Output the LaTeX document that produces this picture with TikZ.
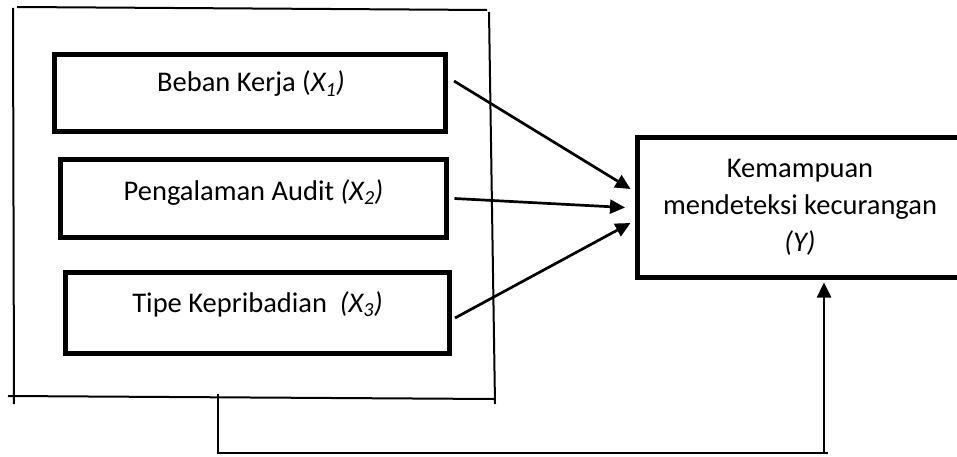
\documentclass[tikz,border=0pt]{standalone}
\usepackage{fontspec}
\setmainfont{Carlito}
\usetikzlibrary{arrows.meta,calc}
\begin{document}
\begin{tikzpicture}[x=1pt,y=-1pt,
  font=\fontsize{28.5}{37}\selectfont,
  varbox/.style={draw,line width=5pt,rectangle,inner sep=0pt},
  frameline/.style={line width=2pt},
  txt/.style={anchor=base,inner sep=0pt},
  arr/.style={line width=2.7pt,-{Triangle[length=15pt,width=14pt]}},
  fbline/.style={line width=2.5pt}]
\useasboundingbox (0,0) rectangle (957,457);
\begin{scope}
\clip (0,0) rectangle (957,457);
% frame
\draw[frameline] (17,7) -- (487,10);
\draw[frameline] (13,8) -- (14,404);
\draw[frameline] (489,12) -- (495,404);
\draw[frameline] (8,396) -- (494,399);
% variable boxes
\node[varbox,minimum width=391pt,minimum height=77pt] (b1) at (250,93) {};
\node[varbox,minimum width=386pt,minimum height=78pt] (b2) at (253.5,198.5) {};
\node[varbox,minimum width=384pt,minimum height=81pt] (b3) at (257.5,313) {};
\node[varbox,minimum width=360pt,minimum height=140pt] (Y) at (817.5,207.5) {};
% texts
\node[txt] (t1) at (251,92) {Beban Kerja (\textit{X\textsubscript{1})}};
\node[txt] (t2) at (253.5,200) {Pengalaman Audit \textit{(X\textsubscript{2})}};
\node[txt] (t3) at (257.5,312) {Tipe Kepribadian~ \textit{(X\textsubscript{3})}};
\node[txt] (y1) at (800,177) {Kemampuan};
\node[txt] (y2) at (800,214) {mendeteksi kecurangan};
\node[txt] (y3) at (800,251) {\textit{(Y)}};
% arrows
\draw[arr] ([xshift=6pt,yshift=12pt]b1.east) -- ([xshift=-4.5pt,yshift=18.5pt]Y.west);
\draw[arr] ([xshift=5.5pt]b2.east) -- ([xshift=-10pt]Y.west);
\draw[arr] ([xshift=3pt,yshift=-5pt]b3.east) -- ([xshift=-4.5pt,yshift=-15.5pt]Y.west);
% feedback
\coordinate (fb) at (218,394);
\draw[fbline] (fb) -- ++(0,59) coordinate (fbc) -- ($(fbc)+(610,0)$);
\draw[fbline,-{Triangle[length=15pt,width=14pt]}] ([xshift=6.5pt]Y.south |- fbc) -- ([xshift=6.5pt,yshift=-2.5pt]Y.south);
\end{scope}
\end{tikzpicture}
\end{document}
